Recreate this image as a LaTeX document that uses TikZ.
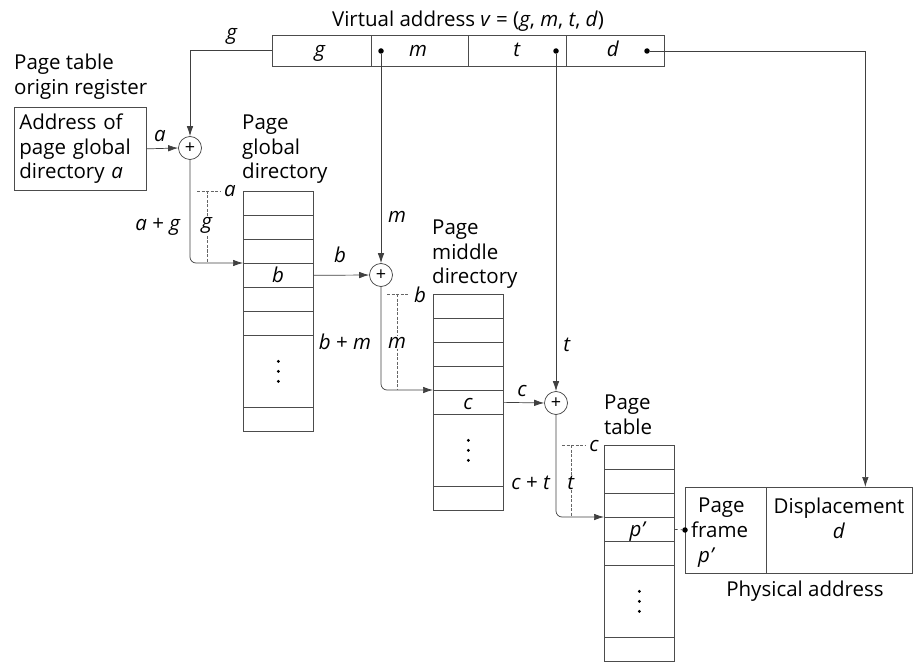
\documentclass[tikz,border=0pt]{standalone}
\usepackage{fontspec}
\setmainfont{Open Sans}
\usetikzlibrary{arrows.meta}
\begin{document}
\begin{tikzpicture}[x=1pt,y=-1pt,
  font=\fontsize{20.5}{24.5}\selectfont,
  ln/.style={draw=black!75, line width=0.7pt},
  arr/.style={ln, -{Latex[length=10pt,width=6.5pt]}},
  dimln/.style={draw=black!60, line width=0.5pt, dash pattern=on 3pt off 1.5pt},
  field/.style={draw=black!70, line width=0.7pt, minimum height=31, inner sep=0},
  cell/.style={draw=black!70, line width=0.7pt, minimum width=70, inner sep=0, anchor=north west},
  plus/.style={circle, draw=black!75, line width=0.7pt, minimum size=23, inner sep=0, font=\fontsize{18}{18}\selectfont},
  dotn/.style={circle, fill=black, minimum size=5.5, inner sep=0},
  lbl/.style={inner sep=0, anchor=base},
  head/.style={inner sep=0, anchor=north west, align=left},
]
\useasboundingbox (0,0) rectangle (913,663);

% ---------- virtual address ----------
\node[lbl] (title) at (468,27) {Virtual address \textit{v} = (\textit{g}, \textit{m}, \textit{t}, \textit{d})};
\node[field, minimum width=99] (fg) at (321.5,50.5) {};
\node[field, minimum width=97] (fm) at (419.5,50.5) {};
\node[field, minimum width=98] (ft) at (517,50.5) {};
\node[field, minimum width=98] (fd) at (615,50.5) {};
\node[lbl] (tg) at (320,57) {\textit{g}};
\node[lbl] (tm) at (418,57) {\textit{m}};
\node[lbl] (tt) at (517,57) {\textit{t}};
\node[lbl] (td) at (613,57) {\textit{d}};
\node[dotn] (dm) at (381,51) {};
\node[dotn] (dt) at (556,51) {};
\node[dotn] (dd) at (647,51) {};

% ---------- register ----------
\node[head] (reghead) at (14,54) {Page table\\origin register};
\node[draw=black!70, line width=0.7pt, anchor=north west, minimum width=132, minimum height=83,
      text width=122, inner xsep=5, inner ysep=0, align=left] (reg) at (14,107)
      {Address of\\page global\\directory \textit{a}};

% ---------- adders ----------
\node[plus] (p1) at (190,148) {+};
\node[plus] (p2) at (381,275) {+};
\node[plus] (p3) at (556,403) {+};

% ---------- page global directory ----------
\node[head] (ghead) at (242,115) {Page\\global\\directory};
\foreach \i/\t/\h in {1/191/24,2/215/24,3/239/24,4/263/24,5/287/24,6/311/24,7/335/72,8/407/24}
  {\node[cell, minimum height=\h] (g\i) at (243,\t) {};}
\draw[black!70, line width=1.2pt] (g8.south west) -- (g8.south east);
\node[lbl] (gb) at (278,282) {\textit{b}};
\foreach \d in {-10,0,10} \fill ([yshift=\d]g7.center) circle (1.6);

% ---------- page middle directory ----------
\node[head] (mhead) at (432,220) {Page\\middle\\directory};
\foreach \i/\t/\h in {1/294/24,2/318/24,3/342/24,4/366/24,5/390/24,6/414/72,7/486/24}
  {\node[cell, minimum height=\h] (m\i) at (433,\t) {};}
\node[lbl] (mc) at (468,409) {\textit{c}};
\foreach \d in {-10,0,10} \fill ([yshift=\d]m6.center) circle (1.6);

% ---------- page table ----------
\node[head] (thead) at (604,395) {Page\\table};
\foreach \i/\t/\h in {1/445/24,2/469/24,3/493/24,4/517/24,5/541/24,6/565/72,7/637/24}
  {\node[cell, minimum height=\h] (t\i) at (604,\t) {};}
\node[lbl] (tp) at (638,536) {\textit{p’}};
\foreach \d in {-10,0,10} \fill ([yshift=\d]t6.center) circle (1.6);

% ---------- physical address ----------
\node[draw=black!70, line width=0.7pt, anchor=north west, minimum width=81, minimum height=86, inner sep=0] (pf) at (685,487) {};
\node[draw=black!70, line width=0.7pt, anchor=north west, minimum width=146, minimum height=86, inner sep=0] (pd) at (766,487) {};
\node[head] (pftext) at (698,498) {Page\\[0.5pt]\hspace*{-7pt}frame\\[0.5pt]\textit{p’}};
\node[inner sep=0, anchor=north, align=center] (pdtext) at (839,498) {Displacement\\[0.5pt]\textit{d}};
\node[dotn] (pdot) at (685,530) {};
\node[lbl] (phys) at (805,596) {Physical address};

% ---------- connectors ----------
\draw[arr] (fg.west) -| (p1.north);
\node[lbl] at (232,40) {\textit{g}};
\draw[arr] (reg.east) -- (p1.west);
\node[lbl] at (160,142) {\textit{a}};
\draw[arr, rounded corners=6] (p1.south) |- (g4.north west);

\draw[arr] (g4.east) -- (p2.west);
\node[lbl] at (340,262) {\textit{b}};
\draw[arr] (dm) -- (p2.north);
\node[lbl] at (397,223) {\textit{m}};
\draw[arr, rounded corners=6] (p2.south) |- (m5.north west);

\draw[arr] (m5.east) -- (p3.west);
\node[lbl] at (522,396) {\textit{c}};
\draw[arr] (dt) -- (p3.north);
\node[lbl] at (567,351) {\textit{t}};
\draw[arr, rounded corners=6] (p3.south) |- (t4.north west);

\draw[ln, dashed] (t4.east) -- (pdot);
\draw[arr] (dd) -| ([xshift=26]pd.north);

% ---------- offset markers ----------
\draw[dimln] (197,191) -- (220,191);
\node[lbl] at (230,197) {\textit{a}};
\draw[dimln] (207,191) -- (207,263);
\node[lbl, fill=white, inner sep=1pt] at (207,229) {\textit{g}};
\node[lbl] at (158,230) {\textit{a} + \textit{g}};

\draw[dimln] (387,294) -- (409,294);
\node[lbl] at (420,302) {\textit{b}};
\draw[dimln] (397,294) -- (397,390);
\node[lbl, fill=white, inner sep=1pt] at (397,348) {\textit{m}};
\node[lbl] at (345,349) {\textit{b} + \textit{m}};

\draw[dimln] (562,445) -- (585,445);
\node[lbl] at (594,451) {\textit{c}};
\draw[dimln] (571,445) -- (571,517);
\node[lbl, fill=white, inner sep=1pt] at (571,489) {\textit{t}};
\node[lbl] at (531,489) {\textit{c} + \textit{t}};
\end{tikzpicture}
\end{document}
